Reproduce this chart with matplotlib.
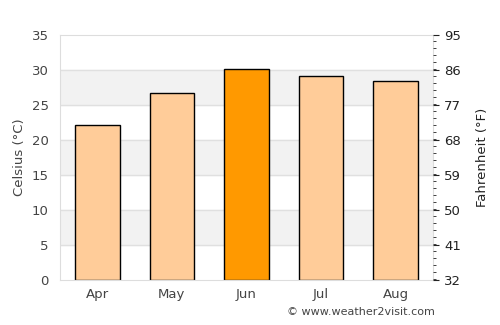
import matplotlib.pyplot as plt
from matplotlib.ticker import MultipleLocator

months = ['Apr', 'May', 'Jun', 'Jul', 'Aug']
celsius = [22.1, 26.8, 30.1, 29.2, 28.4]
colors = ['#ffcc99', '#ffcc99', '#ff9900', '#ffcc99', '#ffcc99']
f_ticks = [32, 41, 50, 59, 68, 77, 86, 95]

fig = plt.figure(figsize=(5, 3.25), dpi=100)
ax = fig.add_axes([0.12, 0.138, 0.746, 0.754])

# alternate grey bands
for lo in (5, 15, 25):
    ax.axhspan(lo, lo + 5, color='#f2f2f2', zorder=0)
for y in range(5, 35, 5):
    ax.axhline(y, color='#e0e0e0', lw=1, zorder=0.5)

x = range(len(months))
ax.bar(x, celsius, width=0.6, color=colors, edgecolor='black', lw=1, zorder=2)

ax.set_xlim(-0.5, 4.5)
ax.set_ylim(0, 35)
ax.set_xticks(list(x))
ax.set_xticklabels(months)
ax.set_yticks(range(0, 36, 5))
ax.tick_params(axis='both', length=0, colors='#444444', labelsize=9.5, pad=6)
ax.tick_params(axis='y', pad=8)
ax.set_ylabel('Celsius (°C)', color='#444444', fontsize=9.5)
for s in ax.spines.values():
    s.set_color('#dddddd')

ax2 = ax.twinx()
ax2.set_ylim(32, 95)
ax2.set_yticks(f_ticks)
ax2.yaxis.set_minor_locator(MultipleLocator(1.8))
ax2.tick_params(axis='y', which='major', length=4, colors='#222222', labelsize=9.5, pad=4)
ax2.tick_params(axis='y', which='minor', length=2, color='#222222')
for s in ax2.spines.values():
    s.set_visible(False)
ax2.set_ylabel('Fahrenheit (°F)', color='#222222', fontsize=9.5, labelpad=11)

fig.text(0.87, 0.025, '© www.weather2visit.com', ha='right', va='bottom',
         color='#444444', fontsize=8)

fig.savefig('out.png', dpi=100)
